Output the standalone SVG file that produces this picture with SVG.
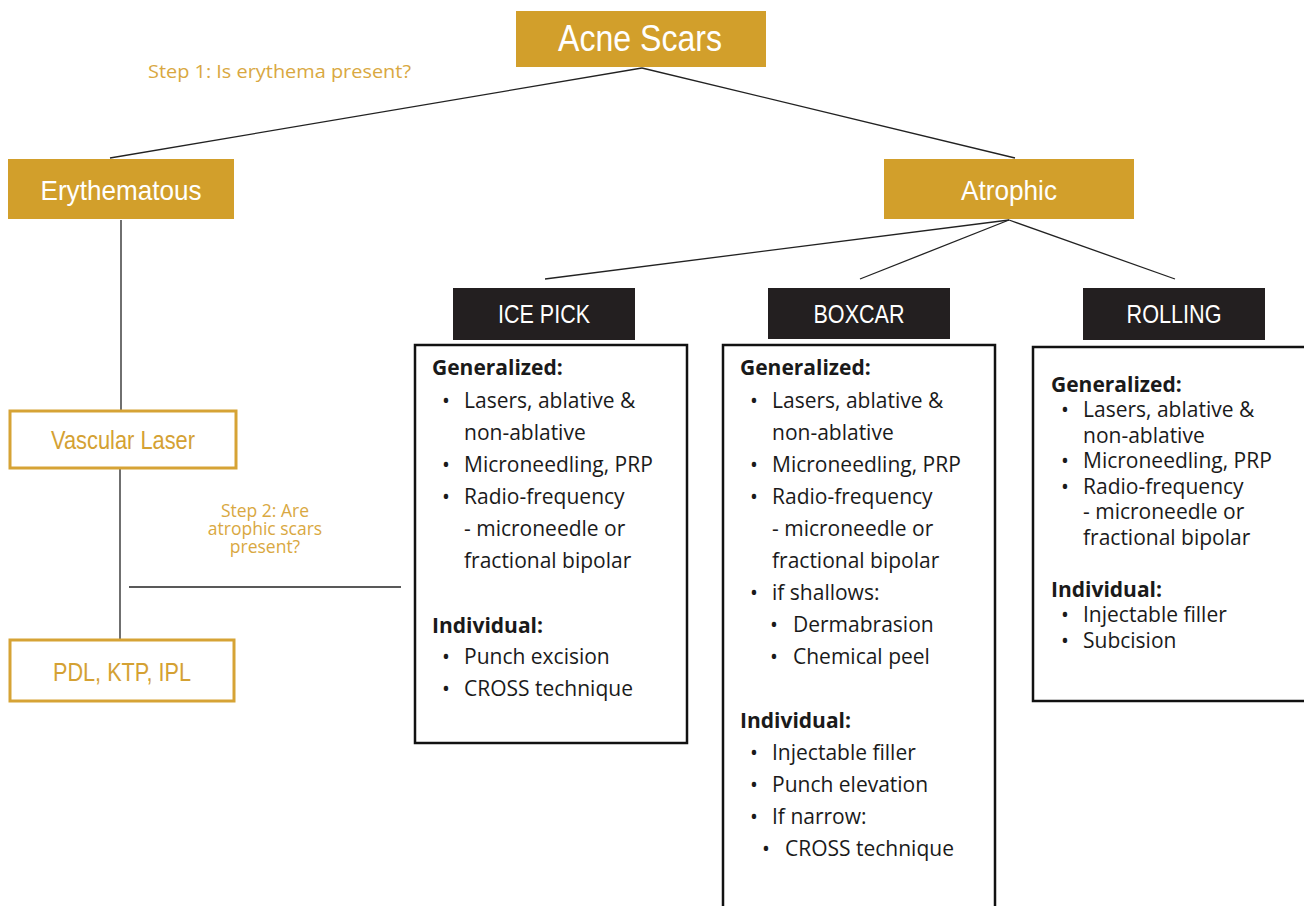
<svg xmlns="http://www.w3.org/2000/svg" width="1304" height="906" viewBox="0 0 1304 906">
<style>
.gold{fill:#D29F2B}
.blk{fill:#231F20}
.hd{font-family:"Liberation Sans Narrow","Arial Narrow","Liberation Sans",sans-serif;fill:#fff;text-anchor:middle}
.gt{font-family:"Liberation Sans Narrow","Arial Narrow","Liberation Sans",sans-serif;fill:#D4A133;text-anchor:middle}
.ol{fill:#fff;stroke:#D6A335;stroke-width:3}
.card{fill:#fff;stroke:#111;stroke-width:2.5}
.step{font-family:"Open Sans","Noto Sans",sans-serif;fill:#D9A841}
.t{font-family:"Open Sans","Noto Sans",sans-serif;fill:#1a1a1a;font-size:21px}
.b{font-weight:bold}
.con line{stroke:#222;stroke-width:1.3}
</style>
<rect width="1304" height="906" fill="#fff"/>
<g class="con">
<line x1="642" y1="68" x2="110" y2="158"/>
<line x1="642" y1="68" x2="1015" y2="158"/>
<line x1="121" y1="220" x2="121" y2="411"/>
<line x1="120" y1="469" x2="120" y2="639" stroke="#555"/>
<line x1="129" y1="587" x2="401" y2="587"/>
<line x1="1009" y1="220" x2="545" y2="279"/>
<line x1="1009" y1="220" x2="860" y2="279"/>
<line x1="1009" y1="220" x2="1175" y2="279"/>
</g>
<g id="acne">
<rect x="516" y="11" width="250" height="56" class="gold"/>
<text x="640" y="51" class="hd" font-size="37" textLength="164" lengthAdjust="spacingAndGlyphs">Acne Scars</text>
</g>
<text x="148" y="78" class="step" font-size="18" textLength="263" lengthAdjust="spacingAndGlyphs">Step 1: Is erythema present?</text>
<g id="erythematous">
<rect x="8" y="159" width="226" height="60" class="gold"/>
<text x="121" y="200" class="hd" font-size="28" textLength="161" lengthAdjust="spacingAndGlyphs">Erythematous</text>
</g>
<g id="atrophic">
<rect x="884" y="159" width="250" height="60" class="gold"/>
<text x="1009" y="200" class="hd" font-size="28" textLength="96" lengthAdjust="spacingAndGlyphs">Atrophic</text>
</g>
<g id="vascular">
<rect x="10" y="411" width="226" height="57" class="ol"/>
<text x="123" y="449" class="gt" font-size="25" textLength="144" lengthAdjust="spacingAndGlyphs">Vascular Laser</text>
</g>
<g id="pdl">
<rect x="10" y="640" width="224" height="61" class="ol"/>
<text x="122" y="681" class="gt" font-size="26" textLength="138" lengthAdjust="spacingAndGlyphs">PDL, KTP, IPL</text>
</g>
<text class="step" text-anchor="middle" font-size="17.5"><tspan x="265" y="517">Step 2: Are</tspan><tspan x="265" y="535">atrophic scars</tspan><tspan x="265" y="553">present?</tspan></text>
<g id="icepick">
<rect x="453" y="288" width="182" height="52" class="blk"/>
<text x="544" y="323" class="hd" font-size="26" textLength="92" lengthAdjust="spacingAndGlyphs">ICE PICK</text>
</g>
<g id="boxcar">
<rect x="768" y="288" width="182" height="51" class="blk"/>
<text x="859" y="323" class="hd" font-size="26" textLength="91" lengthAdjust="spacingAndGlyphs">BOXCAR</text>
</g>
<g id="rolling">
<rect x="1083" y="288" width="182" height="52" class="blk"/>
<text x="1174" y="323" class="hd" font-size="26" textLength="95" lengthAdjust="spacingAndGlyphs">ROLLING</text>
</g>
<g id="icepick-card">
<rect x="415" y="345" width="272" height="398" class="card"/>
<text class="t">
<tspan x="432" y="375" class="b">Generalized:</tspan>
<tspan x="442" y="408">•</tspan><tspan x="464" y="408">Lasers, ablative &amp;</tspan>
<tspan x="464" y="440">non-ablative</tspan>
<tspan x="442" y="472">•</tspan><tspan x="464" y="472">Microneedling, PRP</tspan>
<tspan x="442" y="504">•</tspan><tspan x="464" y="504">Radio-frequency</tspan>
<tspan x="464" y="536">- microneedle or</tspan>
<tspan x="464" y="568">fractional bipolar</tspan>
<tspan x="432" y="633" class="b">Individual:</tspan>
<tspan x="442" y="664">•</tspan><tspan x="464" y="664">Punch excision</tspan>
<tspan x="442" y="696">•</tspan><tspan x="464" y="696">CROSS technique</tspan>
</text>
</g>
<g id="boxcar-card">
<rect x="723" y="345" width="272" height="570" class="card"/>
<text class="t">
<tspan x="740" y="375" class="b">Generalized:</tspan>
<tspan x="750" y="408">•</tspan><tspan x="772" y="408">Lasers, ablative &amp;</tspan>
<tspan x="772" y="440">non-ablative</tspan>
<tspan x="750" y="472">•</tspan><tspan x="772" y="472">Microneedling, PRP</tspan>
<tspan x="750" y="504">•</tspan><tspan x="772" y="504">Radio-frequency</tspan>
<tspan x="772" y="536">- microneedle or</tspan>
<tspan x="772" y="568">fractional bipolar</tspan>
<tspan x="750" y="600">•</tspan><tspan x="772" y="600">if shallows:</tspan>
<tspan x="770" y="632">•</tspan><tspan x="793" y="632">Dermabrasion</tspan>
<tspan x="770" y="664">•</tspan><tspan x="793" y="664">Chemical peel</tspan>
<tspan x="740" y="728" class="b">Individual:</tspan>
<tspan x="750" y="760">•</tspan><tspan x="772" y="760">Injectable filler</tspan>
<tspan x="750" y="792">•</tspan><tspan x="772" y="792">Punch elevation</tspan>
<tspan x="750" y="824">•</tspan><tspan x="772" y="824">If narrow:</tspan>
<tspan x="762" y="856">•</tspan><tspan x="785" y="856">CROSS technique</tspan>
</text>
</g>
<g id="rolling-card">
<rect x="1033" y="347" width="280" height="354" class="card"/>
<text class="t">
<tspan x="1051" y="392" class="b">Generalized:</tspan>
<tspan x="1061" y="417">•</tspan><tspan x="1083" y="417">Lasers, ablative &amp;</tspan>
<tspan x="1083" y="443">non-ablative</tspan>
<tspan x="1061" y="468">•</tspan><tspan x="1083" y="468">Microneedling, PRP</tspan>
<tspan x="1061" y="494">•</tspan><tspan x="1083" y="494">Radio-frequency</tspan>
<tspan x="1083" y="519">- microneedle or</tspan>
<tspan x="1083" y="545">fractional bipolar</tspan>
<tspan x="1051" y="597" class="b">Individual:</tspan>
<tspan x="1061" y="622">•</tspan><tspan x="1083" y="622">Injectable filler</tspan>
<tspan x="1061" y="648">•</tspan><tspan x="1083" y="648">Subcision</tspan>
</text>
</g>
</svg>
